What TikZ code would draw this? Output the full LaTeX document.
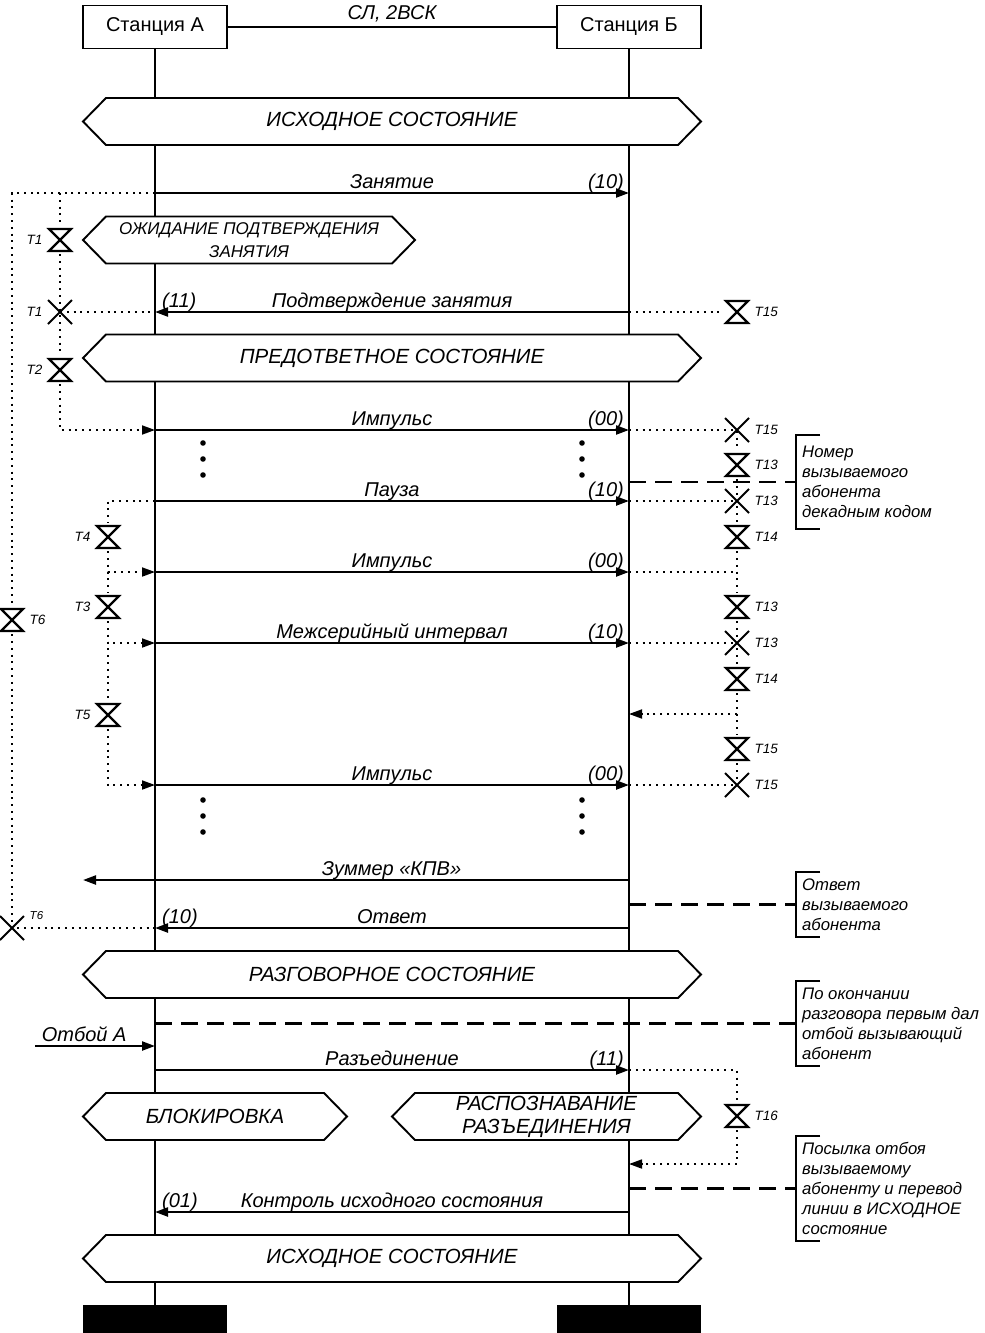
\documentclass[tikz,border=0pt]{standalone}
\usepackage{fontspec}
\setmainfont{Liberation Sans}
\usetikzlibrary{arrows.meta}

\tikzset{
  station/.style={draw, line width=1.9pt, minimum width=144pt, minimum height=43pt, inner sep=0pt, font=\fontsize{20}{24}\selectfont},
  endbar/.style={fill=black, minimum width=144pt, minimum height=28pt, inner sep=0pt},
  life/.style={line width=2.2pt},
  msg/.style={line width=2.2pt, -{Triangle[length=13pt,width=9pt]}},
  lbl/.style={anchor=base, yshift=5pt, inner sep=0pt, font=\fontsize{20}{23}\selectfont\itshape},
  code/.style={inner sep=0pt, font=\fontsize{20}{23}\selectfont\itshape},
  statetxt/.style={align=center, inner sep=0pt, font=\fontsize{20.5}{23}\selectfont\itshape},
  tmr/.style={line width=1.8pt, dash pattern=on 2pt off 4.8pt},
  tmrarr/.style={tmr, -{Triangle[length=13pt,width=9pt]}},
  note/.style={line width=2.2pt, dash pattern=on 17pt off 9pt},
  notetxt/.style={anchor=west, align=left, inner xsep=6pt, inner ysep=0pt, font=\fontsize{16.7}{20}\selectfont\itshape},
  tlab/.style={font=\fontsize{13.5}{15}\selectfont\itshape},
  hglass/.style={inner sep=0pt, minimum size=28pt, label distance=-5pt, path picture={
    \draw[line width=2.2pt, line join=miter]
      ([shift={(-11pt,11pt)}]path picture bounding box.center) --
      ([shift={(11pt,11pt)}]path picture bounding box.center) --
      ([shift={(-11pt,-11pt)}]path picture bounding box.center) --
      ([shift={(11pt,-11pt)}]path picture bounding box.center) -- cycle;}},
  tout/.style={inner sep=0pt, minimum size=28pt, label distance=-5pt, path picture={
    \draw[line width=1.9pt]
      ([shift={(-12pt,12pt)}]path picture bounding box.center) --
      ([shift={(12pt,-12pt)}]path picture bounding box.center)
      ([shift={(12pt,12pt)}]path picture bounding box.center) --
      ([shift={(-12pt,-12pt)}]path picture bounding box.center);}}
}

% hexagon of a state: name, left tip, right tip, middle y, text
\newcommand{\statehex}[5]{%
  \draw[line width=1.9pt, fill=white] (#2,#4) -- (#2+23,#4-23.5) -- (#3-23,#4-23.5)
    -- (#3,#4) -- (#3-23,#4+23.5) -- (#2+23,#4+23.5) -- cycle;
  \node[statetxt] (#1) at ({(#2+#3)/2},#4) {#5};}

\begin{document}
\begin{tikzpicture}[x=1pt, y=-1pt]
  \useasboundingbox (0,0) rectangle (985,1333);

  % stations and lifelines
  \node[station] (stA) at (155,27) {Станция А};
  \node[station] (stB) at (629,27) {Станция Б};
  \node[endbar] (endA) at (155,1319) {};
  \node[endbar] (endB) at (629,1319) {};
  \draw[line width=1.9pt] (stA) -- node[code, above=4pt] (link) {СЛ, 2ВСК} (stB);
  \draw[life] (stA) -- (endA);
  \draw[life] (stB) -- (endB);

  % states
  \statehex{sInit}{83}{701}{121.5}{ИСХОДНОЕ СОСТОЯНИЕ}
  \statehex{sWait}{83}{415}{240}{\fontsize{17}{20}\selectfont ОЖИДАНИЕ ПОДТВЕРЖДЕНИЯ\\\fontsize{17}{20}\selectfont ЗАНЯТИЯ}
  \statehex{sPre}{83}{701}{358}{ПРЕДОТВЕТНОЕ СОСТОЯНИЕ}
  \statehex{sTalk}{83}{701}{974.5}{РАЗГОВОРНОЕ СОСТОЯНИЕ}
  \statehex{sBlock}{83}{347}{1116.5}{БЛОКИРОВКА}
  \statehex{sRecog}{392}{701}{1116.5}{РАСПОЗНАВАНИЕ\\РАЗЪЕДИНЕНИЯ}
  \statehex{sInitB}{83}{701}{1258.5}{ИСХОДНОЕ СОСТОЯНИЕ}

  % messages
  \draw[msg] (stA |- 0,193) -- node[lbl] (mSeize) {Занятие} (stB |- 0,193);
  \node[code, anchor=base east] (cSeize) at (624,188) {(10)};
  \draw[msg] (stB |- 0,312) -- node[lbl] (mAck) {Подтверждение занятия} (stA |- 0,312);
  \node[code, anchor=base west] (cAck) at (162,307) {(11)};
  \draw[msg] (stA |- 0,430) -- node[lbl] (mPulseA) {Импульс} (stB |- 0,430);
  \node[code, anchor=base east] (cPulseA) at (624,425) {(00)};
  \draw[msg] (stA |- 0,501) -- node[lbl] (mPause) {Пауза} (stB |- 0,501);
  \node[code, anchor=base east] (cPause) at (624,496) {(10)};
  \draw[msg] (stA |- 0,572) -- node[lbl] (mPulseB) {Импульс} (stB |- 0,572);
  \node[code, anchor=base east] (cPulseB) at (624,567) {(00)};
  \draw[msg] (stA |- 0,643) -- node[lbl] (mInter) {Межсерийный интервал} (stB |- 0,643);
  \node[code, anchor=base east] (cInter) at (624,638) {(10)};
  \draw[msg] (stA |- 0,785) -- node[lbl] (mPulseC) {Импульс} (stB |- 0,785);
  \node[code, anchor=base east] (cPulseC) at (624,780) {(00)};
  \foreach \y in {443,459,475,800,816,832} {
    \fill (203,\y) circle (2.8pt);
    \fill (582,\y) circle (2.8pt);
  }
  \coordinate (kpv) at (83,880);
  \draw[msg] (stB |- kpv) -- node[lbl, pos=0.435] (mKpv) {Зуммер «КПВ»} (kpv);
  \draw[msg] (stB |- 0,928) -- node[lbl] (mAns) {Ответ} (stA |- 0,928);
  \node[code, anchor=base west] (cAns) at (162,923) {(10)};
  \coordinate (otb) at (35,1046);
  \draw[msg] (otb) -- node[lbl, pos=0.41] (mOtb) {Отбой А} (stA |- otb);
  \draw[msg] (stA |- 0,1070) -- node[lbl] (mRel) {Разъединение} (stB |- 0,1070);
  \node[code, anchor=base east] (cRel) at (624,1065) {(11)};
  \draw[msg] (stB |- 0,1212) -- node[lbl] (mCtl) {Контроль исходного состояния} (stA |- 0,1212);
  \node[code, anchor=base west] (cCtl) at (162,1207) {(01)};

  % timers of station A
  \node[hglass, label={[tlab]right:T6}] (tsix) at (12,620) {};
  \node[tout, label={[tlab, font=\fontsize{11.5}{13}\selectfont\itshape, yshift=12pt]right:T6}] (tsixx) at (12,928) {};
  \node[hglass, label={[tlab]left:T1}] (tone) at (60,240) {};
  \node[tout, label={[tlab]left:T1}] (tonex) at (60,312) {};
  \node[hglass, label={[tlab]left:T2}] (ttwo) at (60,370) {};
  \node[hglass, label={[tlab]left:T4}] (tfour) at (108,537) {};
  \node[hglass, label={[tlab]left:T3}] (tthree) at (108,607) {};
  \node[hglass, label={[tlab]left:T5}] (tfive) at (108,715) {};
  \draw[tmr] (stA |- 0,193) -| (tsix);
  \draw[tmr] (tsix) -- (tsixx.center) -- (stA |- tsixx);
  \draw[tmr] (tone |- 0,193) -- (tone);
  \draw[tmr] (tone) -- (tonex.center) -- (ttwo);
  \draw[tmr] (tonex.center) -- (stA |- tonex);
  \draw[tmrarr] (ttwo) |- (stA |- 0,430);
  \draw[tmr] (stA |- 0,501) -| (tfour);
  \draw[tmrarr] (tfour) |- (stA |- 0,572);
  \draw[tmr] (tfour) -- (tthree);
  \draw[tmrarr] (tthree) |- (stA |- 0,643);
  \draw[tmr] (tthree) -- (tfive);
  \draw[tmrarr] (tfive) |- (stA |- 0,785);

  % timers of station B
  \node[hglass, label={[tlab]right:T15}] (rA) at (737,312) {};
  \node[tout, label={[tlab]right:T15}] (rB) at (737,430) {};
  \node[hglass, label={[tlab]right:T13}] (rC) at (737,465) {};
  \node[tout, label={[tlab]right:T13}] (rD) at (737,501) {};
  \node[hglass, label={[tlab]right:T14}] (rE) at (737,537) {};
  \node[hglass, label={[tlab]right:T13}] (rF) at (737,607) {};
  \node[tout, label={[tlab]right:T13}] (rG) at (737,643) {};
  \node[hglass, label={[tlab]right:T14}] (rH) at (737,679) {};
  \node[hglass, label={[tlab]right:T15}] (rI) at (737,749) {};
  \node[tout, label={[tlab]right:T15}] (rJ) at (737,785) {};
  \node[hglass, label={[tlab]right:T16}] (rK) at (737,1116) {};
  \draw[tmr] (stB |- rA) -- (rA);
  \draw[tmr] (stB |- rB) -- (rB.center) -- (rC);
  \draw[tmr] (rC) -- (rD.center) -- (rE);
  \draw[tmr] (stB |- rD) -- (rD.center);
  \draw[tmr] (rE) -- (rF);
  \draw[tmr] (stB |- 0,572) -- (rE |- 0,572);
  \draw[tmr] (rF) -- (rG.center) -- (rH);
  \draw[tmr] (stB |- rG) -- (rG.center);
  \draw[tmr] (rH) -- (rI);
  \draw[tmrarr] (rH |- 0,714) -- (stB |- 0,714);
  \draw[tmr] (rI) -- (rJ.center);
  \draw[tmr] (stB |- rJ) -- (rJ.center);
  \draw[tmr] (stB |- 0,1070) -| (rK);
  \draw[tmrarr] (rK) |- (stB |- 0,1164);

  % notes
  \node[notetxt, minimum height=94pt] (nNum) at (796,482) {Номер\\вызываемого\\абонента\\декадным кодом};
  \node[notetxt, minimum height=65pt] (nAns) at (796,904.5) {Ответ\\вызываемого\\абонента};
  \node[notetxt, minimum height=85pt] (nEnd) at (796,1023.5) {По окончании\\разговора первым дал\\отбой вызывающий\\абонент};
  \node[notetxt, minimum height=105pt] (nBack) at (796,1188.5) {Посылка отбоя\\вызываемому\\абоненту и перевод\\линии в ИСХОДНОЕ\\состояние};
  \foreach \n in {nNum,nAns,nEnd,nBack}
    \draw[line width=1.9pt] ([xshift=24pt]\n.north west) -- (\n.north west) -- (\n.south west) -- ([xshift=24pt]\n.south west);
  \draw[note] (stB |- nNum.west) -- (nNum.west);
  \draw[note] (stB |- nAns.west) -- (nAns.west);
  \draw[note] (stA |- nEnd.west) -- (nEnd.west);
  \draw[note] (stB |- nBack.west) -- (nBack.west);
\end{tikzpicture}
\end{document}
